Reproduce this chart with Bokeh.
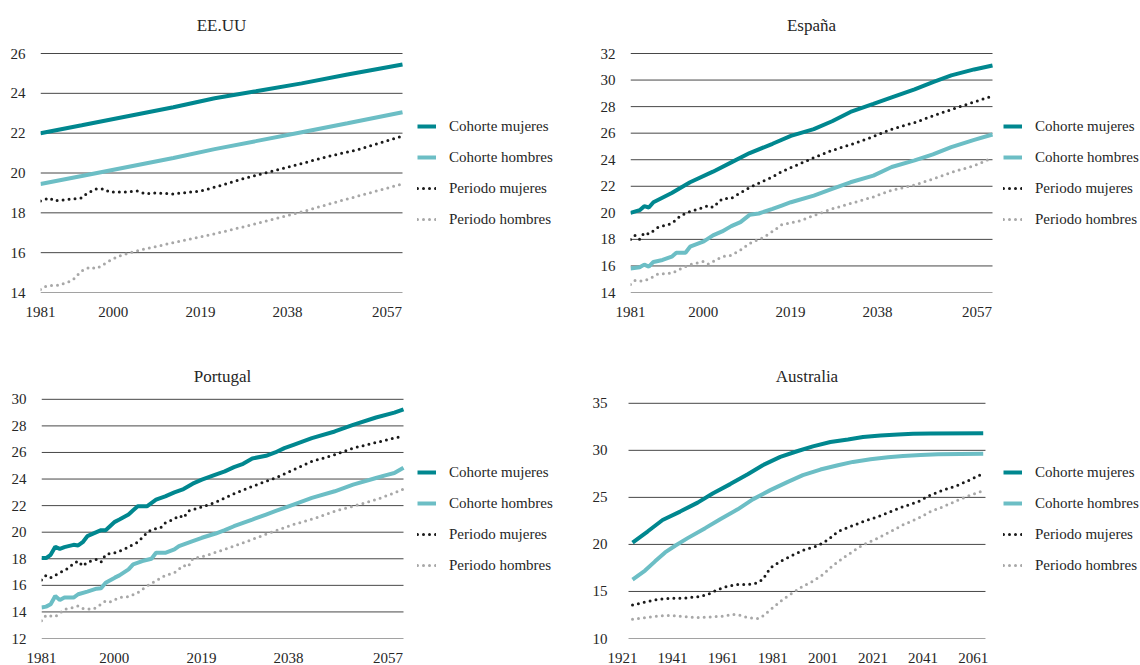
from bokeh.plotting import figure
from bokeh.models import Range1d, FixedTicker, Legend, LegendItem, Label
from bokeh.layouts import column, row
from bokeh.embed import file_html
from bokeh.resources import INLINE

# ---------------- data ----------------
SERIES = ["Cohorte mujeres", "Cohorte hombres", "Periodo mujeres", "Periodo hombres"]

# EE.UU
us_cm_x = [1981, 1990, 2000, 2010, 2019, 2028, 2038, 2048, 2060]
us_cm_y = [22.0, 22.4, 22.85, 23.3, 23.75, 24.1, 24.5, 24.95, 25.45]
us_ch_x = [1981, 1990, 2000, 2010, 2019, 2028, 2038, 2048, 2060]
us_ch_y = [19.45, 19.85, 20.3, 20.75, 21.2, 21.6, 22.05, 22.5, 23.05]
us_pm_x = [1981, 1983, 1984, 1986, 1988, 1990, 1991, 1993, 1995, 1996, 1998, 2000, 2002, 2004,
           2006, 2010, 2012, 2016, 2020, 2025, 2030, 2035, 2040, 2045, 2050, 2055, 2060]
us_pm_y = [18.6, 18.75, 18.6, 18.65, 18.7, 18.75, 18.95, 19.2, 19.2, 19.05, 19.05, 19.05, 19.1, 18.95,
           19.0, 18.95, 19.0, 19.1, 19.35, 19.7, 20.0, 20.3, 20.6, 20.9, 21.15, 21.5, 21.85]
us_ph_x = [1981, 1982, 1983, 1985, 1986, 1988, 1989, 1990, 1991, 1992, 1993, 1994, 1996, 1998,
           2001, 2003, 2010, 2019, 2028, 2038, 2048, 2060]
us_ph_y = [14.15, 14.3, 14.35, 14.36, 14.45, 14.61, 14.86, 15.08, 15.2, 15.28, 15.2, 15.3, 15.58, 15.82,
           16.03, 16.15, 16.5, 16.95, 17.45, 18.05, 18.7, 19.45]

# España
es_cm_x = [1981, 1983, 1984, 1985, 1986, 1990, 1994, 1999, 2003, 2007, 2012, 2016, 2021, 2025,
           2029, 2034, 2038, 2043, 2047, 2051, 2056, 2060]
es_cm_y = [20.0, 20.2, 20.5, 20.4, 20.8, 21.5, 22.3, 23.1, 23.8, 24.5, 25.2, 25.8, 26.3, 26.9,
           27.6, 28.2, 28.7, 29.3, 29.85, 30.35, 30.8, 31.1]
es_ch_x = [1981, 1983, 1984, 1985, 1986, 1988, 1990, 1991, 1993, 1994, 1997, 1999, 2001, 2003, 2005,
           2007, 2009, 2012, 2014, 2016, 2021, 2025, 2029, 2034, 2038, 2043, 2047, 2051, 2056, 2060]
es_ch_y = [15.8, 15.9, 16.1, 15.95, 16.3, 16.45, 16.7, 17.0, 17.0, 17.45, 17.85, 18.3, 18.6, 19.0, 19.3,
           19.85, 19.95, 20.3, 20.55, 20.8, 21.3, 21.8, 22.3, 22.8, 23.45, 23.95, 24.4, 24.95, 25.5, 25.9]
es_pm_x = [1981, 1982, 1983, 1984, 1985, 1987, 1990, 1992, 1994, 1996, 1998, 1999, 2001, 2003, 2005,
           2007, 2010, 2012, 2014, 2018, 2021, 2025, 2030, 2034, 2038, 2043, 2047, 2052, 2056, 2060]
es_pm_y = [18.0, 18.3, 18.0, 18.5, 18.4, 18.9, 19.2, 19.8, 20.1, 20.3, 20.55, 20.4, 21.05, 21.1, 21.5,
           21.9, 22.4, 22.7, 23.1, 23.7, 24.15, 24.7, 25.25, 25.75, 26.3, 26.8, 27.3, 27.9, 28.35, 28.8]
es_ph_x = [1981, 1982, 1983, 1985, 1987, 1990, 1992, 1994, 1997, 1998, 2001, 2003, 2005, 2007,
           2010, 2012, 2014, 2018, 2021, 2025, 2030, 2034, 2038, 2043, 2047, 2052, 2056, 2060]
es_ph_y = [14.6, 14.9, 14.85, 15.0, 15.4, 15.45, 15.8, 16.1, 16.35, 16.15, 16.7, 16.8, 17.2, 17.7,
           18.15, 18.6, 19.1, 19.4, 19.8, 20.3, 20.8, 21.2, 21.7, 22.1, 22.55, 23.15, 23.55, 24.15]

# Portugal
pt_cm_x = [1981, 1982, 1983, 1984, 1985, 1986, 1988, 1989, 1990, 1991, 1993, 1994, 1995, 1997, 1998,
           2000, 2001, 2002, 2004, 2006, 2008, 2010, 2012, 2014, 2016, 2019, 2021, 2023, 2025, 2027,
           2030, 2032, 2034, 2036, 2040, 2045, 2049, 2054, 2058, 2060]
pt_cm_y = [18.05, 18.05, 18.3, 18.9, 18.75, 18.88, 19.05, 19.0, 19.25, 19.7, 20.0, 20.15, 20.15, 20.78, 20.95,
           21.33, 21.65, 21.95, 21.95, 22.45, 22.7, 23.0, 23.25, 23.65, 23.95, 24.33, 24.58, 24.9, 25.15, 25.55,
           25.75, 26.0, 26.33, 26.58, 27.08, 27.58, 28.08, 28.63, 29.0, 29.25]
pt_ch_x = [1981, 1982, 1983, 1984, 1985, 1986, 1988, 1989, 1991, 1993, 1994, 1995, 1997, 1998, 2000,
           2001, 2003, 2005, 2006, 2008, 2010, 2011, 2014, 2016, 2019, 2021, 2023, 2025, 2027, 2030,
           2032, 2036, 2040, 2045, 2049, 2054, 2056, 2058, 2060]
pt_ch_y = [14.33, 14.4, 14.58, 15.2, 14.9, 15.08, 15.08, 15.33, 15.53, 15.75, 15.78, 16.2, 16.58, 16.75, 17.2,
           17.58, 17.83, 18.0, 18.45, 18.45, 18.7, 18.95, 19.33, 19.58, 19.9, 20.15, 20.45, 20.7, 20.95, 21.33,
           21.58, 22.08, 22.58, 23.08, 23.58, 24.08, 24.28, 24.45, 24.85]
pt_pm_x = [1981, 1982, 1983, 1985, 1987, 1988, 1989, 1990, 1991, 1993, 1994, 1995, 1997, 1999, 2001,
           2002, 2004, 2005, 2007, 2008, 2010, 2011, 2012, 2013, 2016, 2019, 2023, 2027, 2032, 2036,
           2040, 2045, 2049, 2054, 2058, 2060]
pt_pm_y = [16.4, 16.75, 16.58, 16.95, 17.33, 17.65, 17.83, 17.45, 17.75, 17.95, 17.75, 18.33, 18.45, 18.7, 19.08,
           19.25, 19.95, 20.2, 20.33, 20.7, 21.0, 21.25, 21.08, 21.58, 21.9, 22.25, 22.9, 23.45, 24.08, 24.7,
           25.33, 25.83, 26.33, 26.75, 27.08, 27.25]
pt_ph_x = [1981, 1982, 1984, 1985, 1986, 1988, 1989, 1990, 1992, 1993, 1995, 1996, 1998, 2000, 2002,
           2004, 2005, 2008, 2010, 2012, 2013, 2014, 2017, 2022, 2026, 2032, 2036, 2041, 2045, 2049,
           2054, 2058, 2060]
pt_ph_y = [13.33, 13.75, 13.65, 13.9, 14.2, 14.33, 14.45, 14.25, 14.2, 14.33, 14.83, 14.75, 15.08, 15.15, 15.45,
           15.95, 16.15, 16.75, 16.95, 17.5, 17.4, 18.0, 18.25, 18.83, 19.33, 20.1, 20.58, 21.08, 21.58, 21.95,
           22.45, 22.95, 23.25]

# Australia
au_cm_x = [1925, 1931, 1937, 1944, 1951, 1957, 1964, 1971, 1977, 1984, 1991, 1997, 2004, 2011, 2017,
           2024, 2031, 2037, 2044, 2065]
au_cm_y = [20.2, 21.37, 22.6, 23.49, 24.44, 25.42, 26.41, 27.46, 28.42, 29.3, 29.93, 30.42, 30.88, 31.16, 31.41,
           31.58, 31.69, 31.76, 31.8, 31.83]
au_ch_x = [1925, 1930, 1934, 1938, 1942, 1947, 1954, 1960, 1967, 1973, 1980, 1987, 1993, 2000, 2007,
           2013, 2020, 2027, 2033, 2040, 2047, 2065]
au_ch_y = [16.27, 17.22, 18.2, 19.15, 19.86, 20.67, 21.73, 22.68, 23.73, 24.79, 25.77, 26.65, 27.36, 27.96, 28.42,
           28.77, 29.05, 29.26, 29.4, 29.5, 29.58, 29.65]
au_pm_x = [1925, 1930, 1935, 1940, 1946, 1951, 1955, 1959, 1963, 1967, 1971, 1974, 1977, 1980, 1984,
           1988, 1993, 1999, 2003, 2007, 2012, 2017, 2023, 2028, 2033, 2039, 2044, 2049, 2055, 2060, 2065]
au_pm_y = [13.56, 13.87, 14.15, 14.26, 14.3, 14.44, 14.68, 15.2, 15.56, 15.74, 15.74, 15.85, 16.27, 17.5, 18.2,
           18.73, 19.37, 19.86, 20.49, 21.37, 21.9, 22.43, 22.96, 23.49, 24.01, 24.54, 25.25, 25.77, 26.3, 26.9, 27.54]
au_ph_x = [1925, 1930, 1935, 1940, 1946, 1951, 1956, 1962, 1965, 1968, 1971, 1975, 1977, 1981, 1985,
           1989, 1993, 1997, 2001, 2005, 2009, 2013, 2017, 2023, 2028, 2033, 2039, 2044, 2049, 2055, 2060, 2065]
au_ph_y = [12.04, 12.22, 12.39, 12.46, 12.32, 12.22, 12.29, 12.39, 12.57, 12.46, 12.22, 12.11, 12.39, 13.27, 14.15,
           14.86, 15.56, 16.09, 16.8, 17.75, 18.56, 19.26, 19.96, 20.67, 21.37, 22.08, 22.78, 23.49, 24.01, 24.72,
           25.25, 25.7]

# axis ticks
y_ticks_us = [14, 16, 18, 20, 22, 24, 26]
y_ticks_es = [14, 16, 18, 20, 22, 24, 26, 28, 30, 32]
y_ticks_pt = [12, 14, 16, 18, 20, 22, 24, 26, 28, 30]
y_ticks_au = [10, 15, 20, 25, 30, 35]
x_tick_pos_short = [1981, 1996.9, 2015.9, 2034.9, 2056.6]
x_tick_lab_short = ["1981", "2000", "2019", "2038", "2057"]
x_tick_pos_au = [1921, 1941, 1961, 1981, 2001, 2021, 2041, 2061]
x_tick_lab_au = ["1921", "1941", "1961", "1981", "2001", "2021", "2041", "2061"]

# ---------------- styling ----------------
FONT = "Liberation Serif"
TEXT = "#262626"
C_DARK = "#00878F"
C_LIGHT = "#6CBEC5"
C_BLACK = "#1A1A1A"
C_GRAY = "#A8A8A8"
GRID = "#474747"


def panel(title, x_left, g0, g1, ppy, yr, yticks, xpos, xlab, data, height, left, top, bottom,
          title_y, ystand, leg_x, leg_y):
    # The frame spans from `left` to the right edge of the figure and from the figure top
    # down to `bottom`; the grid/data area runs g0..g1 and yr[0]..yr[1] (top edge at `top`).
    frame_w = 570 - left
    x_end = x_left + frame_w / ppy
    grid_h = height - top - bottom
    ppu = grid_h / (yr[1] - yr[0])
    y_end = yr[1] + top / ppu
    p = figure(width=570, height=height, output_backend="svg", toolbar_location=None,
               x_range=Range1d(x_left, x_end), y_range=Range1d(yr[0], y_end),
               min_border_left=left, min_border_right=0,
               min_border_top=0, min_border_bottom=bottom)
    p.outline_line_color = None
    p.background_fill_color = "white"
    p.border_fill_color = "white"

    p.xgrid.grid_line_color = None
    p.ygrid.grid_line_color = None
    # horizontal grid lines limited to the data area
    p.segment(x0=[g0] * len(yticks), x1=[g1] * len(yticks), y0=yticks, y1=yticks,
              line_color=GRID, line_width=1)

    p.yaxis.ticker = FixedTicker(ticks=yticks)
    p.xaxis.ticker = FixedTicker(ticks=xpos)
    p.xaxis.major_label_overrides = {pos: lab for pos, lab in zip(xpos, xlab)}
    for ax in (p.xaxis[0], p.yaxis[0]):
        ax.axis_line_color = None
        ax.major_tick_line_color = None
        ax.minor_tick_line_color = None
        ax.major_label_text_font = FONT
        ax.major_label_text_font_size = "15px"
        ax.major_label_text_color = TEXT
    p.xaxis.major_label_standoff = 8
    p.yaxis.major_label_standoff = ystand

    (cmx, cmy), (chx, chy), (pmx, pmy), (phx, phy) = data
    r1 = p.line(cmx, cmy, line_color=C_DARK, line_width=4)
    r2 = p.line(chx, chy, line_color=C_LIGHT, line_width=4)
    r3 = p.line(pmx, pmy, line_color=C_BLACK, line_width=3, line_dash="0 6", line_cap="round")
    r4 = p.line(phx, phy, line_color=C_GRAY, line_width=3, line_dash="0 6", line_cap="round")

    legend = Legend(items=[LegendItem(label=s, renderers=[r]) for s, r in zip(SERIES, [r1, r2, r3, r4])],
                    location=(leg_x, leg_y), margin=0, padding=0, spacing=11,
                    glyph_width=19, glyph_height=20, label_height=20, label_standoff=13,
                    border_line_color=None, background_fill_alpha=0)
    legend.label_text_font = FONT
    legend.label_text_font_size = "15px"
    legend.label_text_color = TEXT
    p.add_layout(legend, "center")

    p.add_layout(Label(x=(g0 + g1) / 2, y=height - bottom - title_y, y_units="screen",
                       text=title, text_align="center", text_baseline="middle",
                       text_font=FONT, text_font_size="17px", text_color=TEXT))
    return p


PPY_SHORT = 362 / 79
PPY_AU = 2.505

p1 = panel("EE.UU", 1981, 1981, 2060, PPY_SHORT, (14, 26), y_ticks_us, x_tick_pos_short, x_tick_lab_short,
           [(us_cm_x, us_cm_y), (us_ch_x, us_ch_y), (us_pm_x, us_pm_y), (us_ph_x, us_ph_y)],
           345, 40, 53, 53, 25, 9, 377, 63)
p2 = panel("España", 1981, 1981, 2060, PPY_SHORT, (14, 32), y_ticks_es, x_tick_pos_short, x_tick_lab_short,
           [(es_cm_x, es_cm_y), (es_ch_x, es_ch_y), (es_pm_x, es_pm_y), (es_ph_x, es_ph_y)],
           345, 60, 53, 53, 25, 9, 373, 63)
p3 = panel("Portugal", 1981, 1981, 2060, PPY_SHORT, (12, 30), y_ticks_pt, x_tick_pos_short, x_tick_lab_short,
           [(pt_cm_x, pt_cm_y), (pt_ch_x, pt_ch_y), (pt_pm_x, pt_pm_y), (pt_ph_x, pt_ph_y)],
           320, 41, 54, 26, 32, 9, 376, 63)
p4 = panel("Australia", 1920.2, 1923.4, 2065.9, PPY_AU, (10, 35), y_ticks_au, x_tick_pos_au, x_tick_lab_au,
           [(au_cm_x, au_cm_y), (au_ch_x, au_ch_y), (au_pm_x, au_pm_y), (au_ph_x, au_ph_y)],
           320, 50, 58, 26, 32, 7, 383, 63)

layout = column(row(p1, p2), row(p3, p4))
open("out.html", "w").write(file_html(layout, INLINE))
